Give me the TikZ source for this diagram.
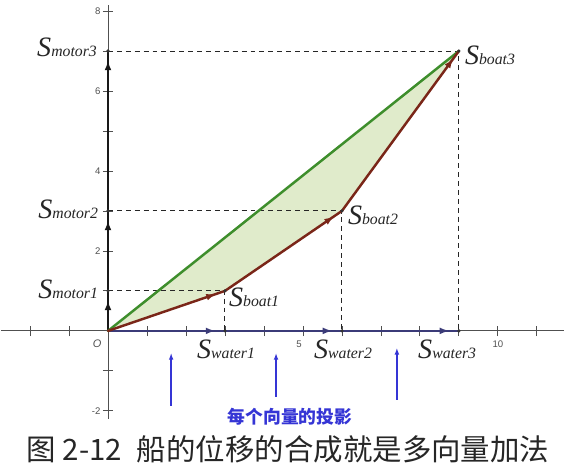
\documentclass[tikz,border=0pt]{standalone}
\usepackage{fontspec}
\setmainfont{Liberation Serif}
\setsansfont{Liberation Sans}
\newfontfamily\cjk{Noto Sans CJK SC}
\usetikzlibrary{arrows.meta,decorations.markings}
\definecolor{boatred}{HTML}{7A2618}
\definecolor{sumgreen}{HTML}{3E8E2C}
\definecolor{areagreen}{HTML}{E0EBCB}
\definecolor{waterblue}{HTML}{3B3B78}
\definecolor{noteblue}{HTML}{3535D5}
\definecolor{capgray}{HTML}{262626}
\definecolor{axisgray}{HTML}{505050}

\newcommand{\Sv}[1]{{\fontsize{20.5}{20.5}\selectfont\itshape S}{\fontsize{11.5}{11.5}\selectfont\itshape #1}}

\begin{document}
\begin{tikzpicture}[x=1cm,y=1.0256cm]
\tikzset{
  axis/.style     = {draw=axisgray, line width=0.6pt},
  ticklabel/.style= {font=\sffamily\fontsize{7}{7}\selectfont,
                     text=axisgray, inner sep=1pt},
  guide/.style    = {draw=black!85, line width=0.7pt,
                     dash pattern=on 3.6pt off 2.9pt},
  midtip/.style   = {postaction={decorate},
                     decoration={markings, mark=at position -7pt with
                       {\arrow{Latex[length=7pt,width=5pt]}}}},
  motorvec/.style = {draw=black!90, line width=1.9pt, midtip},
  watervec/.style = {draw=waterblue, line width=2pt, midtip},
  boatvec/.style  = {draw=boatred, line width=1.8pt, line cap=round, midtip},
  sumvec/.style   = {draw=sumgreen, line width=1.8pt, line cap=round},
  slabel/.style   = {text=capgray, inner sep=0pt},
  projarrow/.style= {draw=noteblue, line width=1.1pt,
                     -{Latex[length=5pt,width=3.5pt]}},
  dot/.style      = {fill=black!80}
}
\useasboundingbox (-2.77,-3.575) rectangle (12.26,8.275);
% points
\coordinate (O) at (0,0);
\foreach \i/\x/\y in {1/3/1, 2/6/3, 3/9/7} {
  \coordinate (B\i) at (\x,\y);
  \coordinate (M\i) at (0,\y);
  \coordinate (W\i) at (\x,0);
}
\coordinate (xl) at (-2.75,0);
\coordinate (xr) at (11.7,0);
\coordinate (yb) at (0,-2.2);
\coordinate (yt) at (0,8.15);
% area between the two paths
\fill[areagreen] (O) -- (B1) -- (B2) -- (B3) -- cycle;
% axes
\draw[axis] (xl) -- (xr);
\draw[axis] (yb) -- (yt);
\foreach \x in {-2,...,11}
  \draw[axis] (\x,-0.13) -- (\x,0.13);
\foreach \y in {-2,...,8}
  \draw[axis] (-0.13,\y) -- (0.13,\y);
\foreach \y in {-2,2,4,6,8}
  \node[ticklabel, anchor=east] at (-0.15,\y) {\y};
\node[ticklabel] at (4.9,-0.33) {5};
\node[ticklabel] at (10,-0.33) {10};
\node[ticklabel, font=\sffamily\itshape\fontsize{8}{8}\selectfont] (orig) at (-0.28,-0.33) {O};
% projections
\foreach \i in {1,2,3}
  \draw[guide] (M\i) -- (B\i) -- (W\i);
% vectors
\foreach \a/\b in {O/M1, M1/M2, M2/M3}
  \draw[motorvec] (\a) -- (\b);
\foreach \a/\b in {O/W1, W1/W2, W2/W3}
  \draw[watervec] (\a) -- (\b);
\draw[sumvec] (O) -- (B3);
\foreach \a/\b in {O/B1, B1/B2, B2/B3}
  \draw[boatvec] (\a) -- (\b);
\foreach \p in {B1,B2,B3,M1,M2,M3,W1,W2,W3}
  \fill[dot] (\p) circle (1.3pt);
% labels
\node[slabel, anchor=base east] (lm3) at (-0.28,6.85) {\Sv{motor3}};
\node[slabel, anchor=base east] (lm2) at (-0.25,2.8)  {\Sv{motor2}};
\node[slabel, anchor=base east] (lm1) at (-0.25,0.8)  {\Sv{motor1}};
\node[slabel, anchor=base west] (lb1) at (3.1,0.6)    {\Sv{boat1}};
\node[slabel, anchor=base west] (lb2) at (6.15,2.65)  {\Sv{boat2}};
\node[slabel, anchor=base west] (lb3) at (9.15,6.65)  {\Sv{boat3}};
\node[slabel, anchor=base west] (lw1) at (2.28,-0.68) {\Sv{water1}};
\node[slabel, anchor=base west] (lw2) at (5.28,-0.68) {\Sv{water2}};
\node[slabel, anchor=base west] (lw3) at (7.95,-0.68) {\Sv{water3}};
% note and caption
\foreach \i/\x/\lo/\hi in {1/1.62/-1.87/-0.55, 2/4.31/-1.65/-0.55, 3/7.41/-1.72/-0.42} {
  \coordinate (p\i) at (\x,\lo);
  \coordinate (q\i) at (\x,\hi);
}
\foreach \i in {1,2,3}
  \draw[projarrow] (p\i) -- (q\i);
\node[text=noteblue, font=\cjk\bfseries\fontsize{13}{13}\selectfont] (proj) at (4.67,-2.15) {每个向量的投影};
\node[text=capgray, font=\cjk\fontsize{21.5}{21.5}\selectfont] (cap) at (4.62,-2.95) {图 2-12\enspace 船的位移的合成就是多向量加法};
\end{tikzpicture}
\end{document}
